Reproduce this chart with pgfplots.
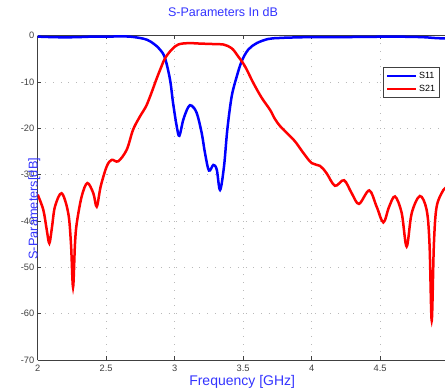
\documentclass[border=0pt]{standalone}
\usepackage{pgfplots}
\pgfplotsset{compat=1.18}
\usepackage{fontspec}
\setmainfont{Liberation Sans}
\definecolor{lblblue}{rgb}{0.2,0.2,1}
\definecolor{tickgray}{rgb}{0.25,0.25,0.25}
\begin{document}
\begin{tikzpicture}
\begin{axis}[
  name=ax,
  scale only axis,
  width=407.3pt, height=324.3pt,
  xmin=2, xmax=4.973, ymin=-70, ymax=0,
  axis x line*=box, axis y line*=left,
  axis line style={draw=tickgray, line width=0.8pt},
  xtick={2,2.5,3,3.5,4,4.5},
  ytick={-70,-60,-50,-40,-30,-20,-10,0},
  xticklabels={2,2.5,3,3.5,4,4.5},
  tick align=inside,
  major tick length=3.7pt,
  tick style={draw=tickgray, line width=0.6pt},
  /pgf/number format/assume math mode=true,
  ticklabel style={font=\fontsize{9.3}{10}\selectfont, text=tickgray},
  xticklabel style={anchor=base, yshift=-11.7pt, inner sep=0pt},
  yticklabel style={anchor=east, inner sep=0pt, xshift=-3.2pt},
  grid=major,
  grid style={draw=gray!55, line width=0.9pt, dash pattern=on 0.9pt off 6.8pt},
  title={S-Parameters In dB},
  title style={at={(rel axis cs:0.455,1)}, anchor=base, yshift=13pt, inner sep=0pt, font=\fontsize{12.5}{13}\selectfont, text=lblblue},
  xlabel={Frequency [GHz]},
  xlabel style={at={(rel axis cs:0.502,0)}, anchor=base, yshift=-25.5pt, inner sep=0pt, font=\fontsize{14}{15}\selectfont, text=lblblue},
  ylabel={S-Parameters[dB]},
  ylabel style={at={(rel axis cs:0,0.505)}, anchor=base, rotate=0, xshift=-12.5pt, inner sep=0pt, font=\fontsize{12.8}{14}\selectfont, text=lblblue},
  legend style={at={(rel axis cs:0.8485,0.902)}, anchor=north west, draw=tickgray, line width=0.6pt, fill=white,
    font=\fontsize{9}{10}\selectfont, inner xsep=2.5pt, inner ysep=2.5pt, row sep=1.5pt,
    nodes={inner sep=1.8pt}},
  legend image code/.code={\draw[line width=2.5pt] (0pt,0pt) -- (28.7pt,0pt);},
  legend cell align=left,
]
\addplot[blue, line width=2.5pt, smooth, tension=0.55] coordinates {
(2.00,-0.2)(2.10,-0.3)(2.20,-0.35)(2.30,-0.3)(2.40,-0.2)(2.50,-0.2)(2.60,-0.15)(2.674,-0.2)(2.747,-0.5)(2.80,-0.9)(2.85,-1.8)(2.893,-3.0)(2.929,-4.8)(2.966,-9.5)(2.988,-14.5)(3.015,-19.6)(3.034,-21.6)(3.063,-18.1)(3.099,-15.4)(3.124,-15.1)(3.161,-16.7)(3.197,-21)(3.221,-25.3)(3.250,-29.1)(3.282,-27.9)(3.307,-28.9)(3.331,-33.3)(3.360,-28.2)(3.384,-20.3)(3.416,-13.1)(3.453,-8.8)(3.489,-5.5)(3.537,-3.0)(3.599,-1.6)(3.683,-0.7)(3.76,-0.5)(3.842,-0.4)(4.0,-0.3)(4.2,-0.3)(4.4,-0.25)(4.6,-0.2)(4.8,-0.3)(4.9,-0.5)(4.973,-0.6)
};
\addlegendentry{S11}
\addplot[red, line width=2.5pt, smooth, tension=0.55] coordinates {
(2.000,-34.3)(2.041,-37.6)(2.066,-41.9)(2.085,-44.8)(2.104,-41.4)(2.126,-36.9)(2.175,-34)(2.223,-38.3)(2.243,-45)(2.258,-54.3)(2.272,-45)(2.285,-40.5)(2.321,-34.7)(2.362,-31.8)(2.406,-34)(2.431,-36.9)(2.460,-32.5)(2.504,-28.2)(2.540,-26.8)(2.588,-27.1)(2.650,-24.6)(2.696,-20.3)(2.747,-17.4)(2.790,-15.3)(2.827,-12.6)(2.864,-9.6)(2.893,-7.4)(2.929,-4.9)(2.978,-3)(3.026,-1.9)(3.099,-1.6)(3.185,-1.7)(3.282,-1.8)(3.355,-1.9)(3.416,-2.7)(3.464,-4.5)(3.513,-6.6)(3.574,-10.2)(3.635,-13.4)(3.696,-16)(3.732,-18)(3.769,-19.5)(3.818,-21)(3.878,-22.8)(3.939,-25.3)(4.000,-27.5)(4.061,-28.1)(4.109,-29.7)(4.170,-32.4)(4.236,-31.2)(4.292,-34)(4.345,-36.3)(4.420,-33.4)(4.474,-36.9)(4.523,-40.3)(4.564,-37)(4.608,-34.7)(4.657,-38.3)(4.693,-45.5)(4.730,-38.3)(4.790,-34.6)(4.839,-37.6)(4.860,-45)(4.876,-61.5)(4.892,-45)(4.912,-36.9)(4.961,-33.3)(4.973,-33.2)
};
\addlegendentry{S21}
\end{axis}
\pgfresetboundingbox
\path (ax.south west) ++(-37.7pt,-29pt) rectangle ++(445pt,389pt);
\end{tikzpicture}
\end{document}
